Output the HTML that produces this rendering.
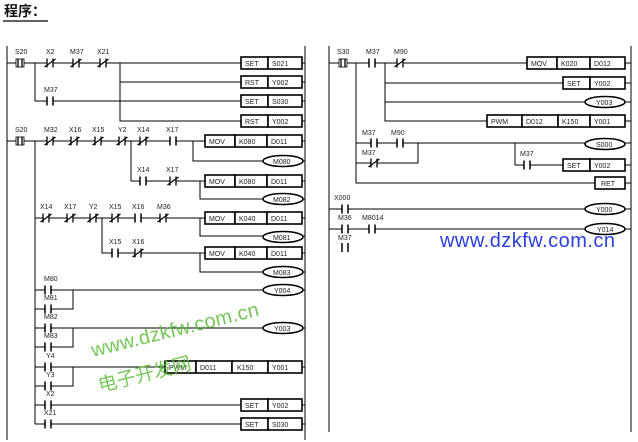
<!DOCTYPE html>
<html><head><meta charset="utf-8"><style>
html,body{margin:0;padding:0;background:#fff;}
svg{display:block;}
text{font-family:"Liberation Sans",Arial,sans-serif;font-size:7px;fill:#222;}
.t{font-size:7.5px;}
.w{stroke:#000;stroke-width:1;fill:none;}
.b{stroke:#000;stroke-width:1.6;fill:#fff;}
</style></head><body>
<svg width="638" height="442" viewBox="0 0 638 442" xmlns="http://www.w3.org/2000/svg">
<defs>
<g id="no"><rect x="-2.5" y="-5" width="5" height="10" fill="#fff"/><path d="M-3,-4.5V4.5M3,-4.5V4.5" stroke="#000" stroke-width="1.5"/></g>
<g id="nc"><rect x="-2.5" y="-5" width="5" height="10" fill="#fff"/><path d="M-3,-4.5V4.5M3,-4.5V4.5M-5.5,4L5.5,-4" stroke="#000" stroke-width="1.3"/></g>
<g id="st"><rect x="-4" y="-5" width="8" height="10" fill="#fff"/><path d="M-2,-4.5V4.5M2,-4.5V4.5" stroke="#000" stroke-width="1.3"/><rect x="-4" y="-4" width="8" height="8" fill="none" stroke="#000" stroke-width="0.8"/></g>
</defs>
<text x="4" y="16" style="font-family:'Noto Sans CJK SC',sans-serif;font-size:14px;font-weight:bold;fill:#111">程序：</text>
<path d="M3,21H48" stroke="#000" stroke-width="1.2"/>

<!-- LEFT PANEL -->
<path class="w" d="M7,46V440M305,46V440"/>
<path class="w" d="M7,63H241M120,63V121H241M35,63V101H241M302,63H305M302,82H305M302,101H305M302,121H305"/>
<path class="w" d="M120,82H241"/>
<use href="#st" x="20" y="63"/><use href="#nc" x="50" y="63"/><use href="#nc" x="76" y="63"/><use href="#nc" x="103" y="63"/>
<text x="15" y="54">S20</text><text x="46" y="54">X2</text><text x="70" y="54">M37</text><text x="97" y="54">X21</text>
<use href="#no" x="50" y="101"/><text x="44" y="92">M37</text>
<g class="t">
<rect class="b" x="241" y="57" width="27" height="12"/><rect class="b" x="268" y="57" width="34" height="12"/><text x="245" y="66">SET</text><text x="272" y="66">S021</text>
<rect class="b" x="241" y="76" width="27" height="12"/><rect class="b" x="268" y="76" width="34" height="12"/><text x="245" y="85">RST</text><text x="272" y="85">Y002</text>
<rect class="b" x="241" y="95" width="27" height="12"/><rect class="b" x="268" y="95" width="34" height="12"/><text x="245" y="104">SET</text><text x="272" y="104">S030</text>
<rect class="b" x="241" y="115" width="27" height="12"/><rect class="b" x="268" y="115" width="34" height="12"/><text x="245" y="124">RST</text><text x="272" y="124">Y002</text>
</g>
<path class="w" d="M7,141H205M193,141V161H263M131,141V181H205M200,181V199H263M35,141V424M302,141H305M302,161H305M302,181H305M302,199H305"/>
<use href="#st" x="20" y="141"/><use href="#nc" x="50" y="141"/><use href="#nc" x="74" y="141"/><use href="#nc" x="98" y="141"/><use href="#nc" x="122" y="141"/><use href="#nc" x="143" y="141"/><use href="#no" x="173" y="141"/>
<text x="15" y="132">S20</text><text x="44" y="132">M32</text><text x="69" y="132">X16</text><text x="92" y="132">X15</text><text x="118" y="132">Y2</text><text x="137" y="132">X14</text><text x="166" y="132">X17</text>
<use href="#no" x="143" y="181"/><use href="#nc" x="173" y="181"/><text x="137" y="172">X14</text><text x="166" y="172">X17</text>
<g class="t">
<rect class="b" x="205" y="135" width="30" height="12"/><rect class="b" x="235" y="135" width="32" height="12"/><rect class="b" x="267" y="135" width="35" height="12"/><text x="209" y="144">MOV</text><text x="239" y="144">K080</text><text x="271" y="144">D011</text>
<ellipse class="b" cx="283" cy="161" rx="20" ry="5.5"/><text x="273" y="164">M080</text>
<rect class="b" x="205" y="175" width="30" height="12"/><rect class="b" x="235" y="175" width="32" height="12"/><rect class="b" x="267" y="175" width="35" height="12"/><text x="209" y="184">MOV</text><text x="239" y="184">K080</text><text x="271" y="184">D011</text>
<ellipse class="b" cx="283" cy="199" rx="20" ry="5.5"/><text x="273" y="202">M082</text>
</g>
<path class="w" d="M35,218H205M200,218V236H263M102,218V253H205M200,253V272H263M302,218H305M302,236H305M302,253H305M302,272H305"/>
<use href="#nc" x="46" y="218"/><use href="#nc" x="70" y="218"/><use href="#nc" x="93" y="218"/><use href="#nc" x="115" y="218"/><use href="#no" x="138" y="218"/><use href="#nc" x="163" y="218"/>
<text x="40" y="209">X14</text><text x="64" y="209">X17</text><text x="89" y="209">Y2</text><text x="109" y="209">X15</text><text x="132" y="209">X16</text><text x="157" y="209">M36</text>
<use href="#no" x="115" y="253"/><use href="#nc" x="138" y="253"/><text x="109" y="244">X15</text><text x="132" y="244">X16</text>
<g class="t">
<rect class="b" x="205" y="212" width="30" height="12"/><rect class="b" x="235" y="212" width="32" height="12"/><rect class="b" x="267" y="212" width="35" height="12"/><text x="209" y="221">MOV</text><text x="239" y="221">K040</text><text x="271" y="221">D011</text>
<ellipse class="b" cx="283" cy="237" rx="20" ry="5.5"/><text x="273" y="240">M081</text>
<rect class="b" x="205" y="247" width="30" height="12"/><rect class="b" x="235" y="247" width="32" height="12"/><rect class="b" x="267" y="247" width="35" height="12"/><text x="209" y="256">MOV</text><text x="239" y="256">K040</text><text x="271" y="256">D011</text>
<ellipse class="b" cx="283" cy="272" rx="20" ry="5.5"/><text x="273" y="275">M083</text>
</g>
<path class="w" d="M35,290H263M35,309H73V290M35,328H263M35,347H73V328M35,367H165M35,386H73V367M35,405H241M35,424H241M302,290H305M302,328H305M302,367H305M302,405H305M302,424H305"/>
<use href="#no" x="48" y="290"/><use href="#no" x="48" y="309"/><use href="#no" x="48" y="328"/><use href="#no" x="48" y="347"/><use href="#no" x="48" y="367"/><use href="#no" x="48" y="386"/><use href="#no" x="48" y="405"/><use href="#no" x="48" y="424"/>
<text x="44" y="281">M80</text><text x="44" y="300">M81</text><text x="44" y="319">M82</text><text x="44" y="338">M83</text><text x="46" y="358">Y4</text><text x="46" y="377">Y3</text><text x="46" y="396">X2</text><text x="44" y="415">X21</text>
<g class="t">
<ellipse class="b" cx="283" cy="290" rx="20" ry="5.5"/><text x="274" y="293">Y004</text>
<ellipse class="b" cx="283" cy="328" rx="20" ry="5.5"/><text x="274" y="331">Y003</text>
<rect class="b" x="165" y="361" width="31" height="12"/><rect class="b" x="196" y="361" width="36" height="12"/><rect class="b" x="232" y="361" width="36" height="12"/><rect class="b" x="268" y="361" width="34" height="12"/><text x="169" y="370">PWM</text><text x="200" y="370">D011</text><text x="237" y="370">K150</text><text x="272" y="370">Y001</text>
<rect class="b" x="241" y="399" width="27" height="12"/><rect class="b" x="268" y="399" width="34" height="12"/><text x="245" y="408">SET</text><text x="272" y="408">Y002</text>
<rect class="b" x="241" y="418" width="27" height="12"/><rect class="b" x="268" y="418" width="34" height="12"/><text x="245" y="427">SET</text><text x="272" y="427">S030</text>
</g>

<!-- RIGHT PANEL -->
<path class="w" d="M329,46V432M631,46V432"/>
<path class="w" d="M329,63H527M385,63V121H487M385,83H563M385,102H585M356,63V183H595M356,143H585M356,163H418V143M515,143V165H563M625,63H631M625,83H631M625,102H631M625,121H631M625,143H631M625,165H631M625,183H631"/>
<use href="#st" x="343" y="63"/><use href="#no" x="372" y="63"/><use href="#nc" x="400" y="63"/>
<text x="337" y="54">S30</text><text x="366" y="54">M37</text><text x="394" y="54">M90</text>
<use href="#no" x="374" y="143"/><use href="#no" x="400" y="143"/><use href="#nc" x="374" y="163"/><use href="#no" x="527" y="165"/>
<text x="362" y="135">M37</text><text x="391" y="135">M90</text><text x="362" y="155">M37</text><text x="520" y="156">M37</text>
<g class="t">
<rect class="b" x="527" y="57" width="30" height="12"/><rect class="b" x="557" y="57" width="33" height="12"/><rect class="b" x="590" y="57" width="35" height="12"/><text x="531" y="66">MOV</text><text x="561" y="66">K020</text><text x="594" y="66">D012</text>
<rect class="b" x="563" y="77" width="27" height="12"/><rect class="b" x="590" y="77" width="35" height="12"/><text x="567" y="86">SET</text><text x="594" y="86">Y002</text>
<ellipse class="b" cx="605" cy="102" rx="20" ry="5.5"/><text x="596" y="105">Y003</text>
<rect class="b" x="487" y="115" width="35" height="12"/><rect class="b" x="522" y="115" width="36" height="12"/><rect class="b" x="558" y="115" width="32" height="12"/><rect class="b" x="590" y="115" width="35" height="12"/><text x="491" y="124">PWM</text><text x="526" y="124">D012</text><text x="562" y="124">K150</text><text x="594" y="124">Y001</text>
<ellipse class="b" cx="605" cy="144" rx="20" ry="5.5"/><text x="596" y="147">S000</text>
<rect class="b" x="563" y="159" width="27" height="12"/><rect class="b" x="590" y="159" width="35" height="12"/><text x="567" y="168">SET</text><text x="594" y="168">Y002</text>
<rect class="b" x="595" y="177" width="30" height="12"/><text x="601" y="186">RET</text>
</g>
<path class="w" d="M329,209H585M329,229H585M625,209H631M625,229H631"/>
<use href="#no" x="345" y="209"/><use href="#no" x="345" y="229"/><use href="#no" x="372" y="229"/>
<path d="M342,243V252M348,243V252" stroke="#000" stroke-width="1.5"/>
<text x="334" y="200">X000</text><text x="338" y="220">M36</text><text x="362" y="220">M8014</text><text x="338" y="240">M37</text>
<g class="t">
<ellipse class="b" cx="605" cy="209" rx="20" ry="5.5"/><text x="596" y="212">Y000</text>
<ellipse class="b" cx="605" cy="229" rx="20" ry="5.5"/><text x="597" y="232">Y014</text>
</g>

<!-- watermarks -->
<text x="440" y="247" textLength="175" style="font-size:20px;fill:#2a3fe0">www.dzkfw.com.cn</text>
<g transform="rotate(-14 93 357)" style="opacity:0.85">
<text x="93" y="357" textLength="172" style="font-size:20px;fill:#5cbf3a">www.dzkfw.com.cn</text>
</g>
<g transform="rotate(-14 100 392)" style="opacity:0.85">
<text x="100" y="392" style="font-family:'Noto Sans CJK SC',sans-serif;font-size:19px;fill:#5cbf3a">电子开发网</text>
</g>
</svg>
</body></html>
